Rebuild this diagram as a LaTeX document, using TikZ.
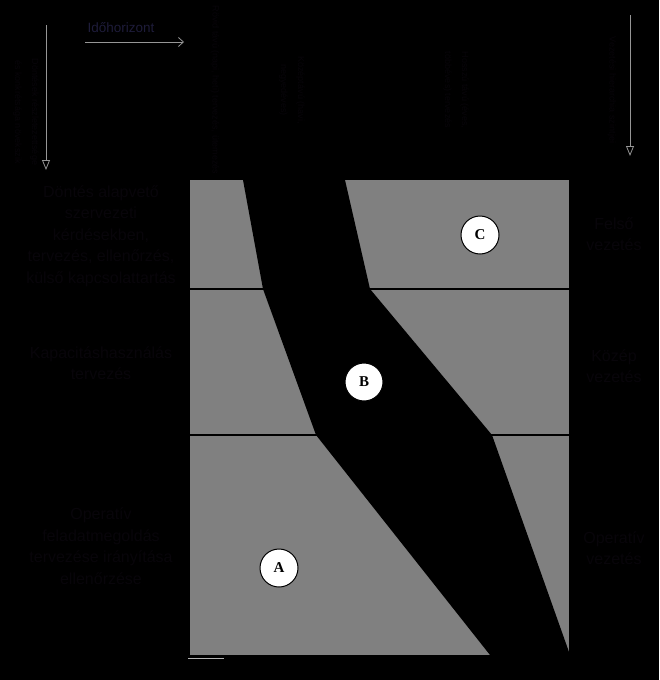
\documentclass[tikz,border=0pt]{standalone}
\usepackage{fontspec}
\setmainfont{Liberation Sans}
\newfontfamily\letterfont{Liberation Serif}
\usepackage{xcolor}
\usepackage{tikz}
\usetikzlibrary{arrows.meta, positioning}
\definecolor{LvlGray}{RGB}{128, 128, 128}
\definecolor{LabelInk}{RGB}{8, 5, 10}
\definecolor{HorizonInk}{RGB}{30, 28, 58}
\definecolor{ArrowGray}{RGB}{150, 150, 150}

\tikzset{
  levelnote/.style={align=center, text=LabelInk, font=\fontsize{16}{21.5}\selectfont, inner sep=0pt},
  rotnote/.style={rotate=-90, align=center, text=LabelInk, font=\fontsize{9}{17}\selectfont, inner sep=0pt},
  zonemark/.style={circle, fill=white, draw=black, line width=1pt, minimum size=38pt, inner sep=0pt,
    font=\fontsize{15}{15}\selectfont\letterfont\bfseries},
  downarrow/.style={ArrowGray, line width=0.8pt, -{Triangle[open, length=10pt, width=8pt]}}
}

\begin{document}
\begin{tikzpicture}[x=1pt,y=-1pt]
  \path[use as bounding box] (0,0) rectangle (659,680);
  \fill[black] (0,0) rectangle (659,680);

  % levels: gray field, black band, dividing lines
  \fill[LvlGray] (190,180) rectangle (569,655);
  \fill[black] (243,180) -- (263,289) -- (316,435) -- (490,655) -- (569,655) --
    (569,652) -- (492,435) -- (370,289) -- (345,180) -- cycle;
  \draw[black, line width=2pt] (180,289) -- (570,289);
  \draw[black, line width=2pt] (180,435) -- (570,435);
  \draw[gray!60, line width=0.6pt] (188,658) -- (224,658);

  % zones
  \node[zonemark] (zoneC) at (480,235) {C};
  \node[zonemark] (zoneB) at (364,382) {B};
  \node[zonemark] (zoneA) at (279,568) {A};

  % left: tasks by level
  \node[levelnote] (taskTop) at (101,236) {Döntés alapvető\\szervezeti\\kérdésekben,\\tervezés, ellenőrzés,\\külső kapcsolattartás};
  \node[levelnote] (taskMid) at (101,363) {Kapacitáshasználás\\tervezés};
  \node[levelnote] (taskOp) at (101,546) {Operatív\\feladatmegoldás\\tervezése irányítása\\ellenőrzése};

  % right: management levels
  \node[levelnote] (lvlTop) at (614,234) {Felső\\vezetés};
  \node[levelnote] (lvlMid) at (614,366) {Közép\\vezetés};
  \node[levelnote] (lvlOp) at (614,548) {Operatív\\vezetés};

  % top: time horizon
  \node[text=HorizonInk, font=\fontsize{13.5}{15}\selectfont, inner sep=0pt] (horizon) at (121,28) {Időhorizont};
  \coordinate (horizonStart) at (85,42);
  \coordinate (horizonEnd) at (184,42);
  \draw[ArrowGray, line width=0.8pt, -{Straight Barb[length=5pt, width=9pt]}] (horizonStart) -- (horizonEnd);

  % vertical notes
  \node[rotnote] (detailNote) at (26,112) {Döntések részletezettsége\\és konkrétsága növekszik};
  \coordinate (detailStart) at (46,25);
  \coordinate (detailEnd) at (46,170);
  \draw[downarrow] (detailStart) -- (detailEnd);

  \node[rotnote] (shortNote) at (215,90) {Rövid távú (napi, heti) tervezés, ütemezés};
  \node[rotnote] (midNote) at (292,90) {Középtávú (havi,\\negyedéves)};
  \node[rotnote] (longNote) at (456,90) {Hosszú távú (éves,\\többéves) tervezés};

  \node[rotnote] (levelNote) at (612,90) {Vezetési hierarchia szintjei};
  \coordinate (levelStart) at (630,15);
  \coordinate (levelEnd) at (630,156);
  \draw[downarrow] (levelStart) -- (levelEnd);
\end{tikzpicture}
\end{document}
